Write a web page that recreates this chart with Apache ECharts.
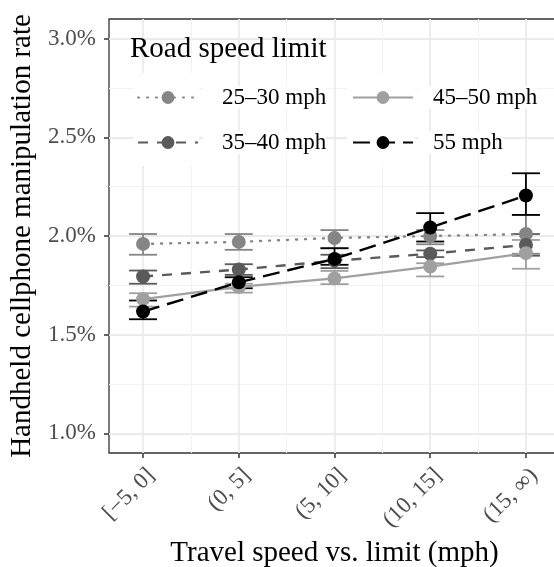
<!DOCTYPE html>
<html>
<head>
<meta charset="utf-8">
<script src="https://cdn.jsdelivr.net/npm/echarts@6/dist/echarts.min.js"></script>
<style>
  html, body { margin: 0; padding: 0; background: #fff; }
  #main { width: 554px; height: 567px; }
</style>
</head>
<body>
<div id="main"></div>
<script>
// categories and values (rate in %)
var cats = ['[\u22125, 0]', '(0, 5]', '(5, 10]', '(10, 15]', '(15, \u221e)'];
var groups = ['25\u201330 mph', '35\u201340 mph', '45\u201350 mph', '55 mph'];

var rate25 = [1.96, 1.97, 1.99, 2.00, 2.01];
var lo25 = [1.905, 1.93, 1.938, 1.958, 1.91];
var hi25 = [2.01, 2.01, 2.03, 2.03, 2.107];

var rate35 = [1.795, 1.83, 1.875, 1.91, 1.955];
var lo35 = [1.758, 1.803, 1.837, 1.893, 1.90];
var hi35 = [1.825, 1.857, 1.905, 1.927, 2.01];

var rate45 = [1.68, 1.742, 1.785, 1.845, 1.913];
var lo45 = [1.642, 1.713, 1.756, 1.795, 1.834];
var hi45 = [1.71, 1.758, 1.823, 1.862, 1.98];

var rate55 = [1.617, 1.765, 1.884, 2.043, 2.205];
var lo55 = [1.578, 1.735, 1.854, 1.972, 2.107];
var hi55 = [1.673, 1.791, 1.938, 2.116, 2.318];

var yTicks = [1.0, 1.5, 2.0, 2.5, 3.0];
var yMinor = [1.25, 1.75, 2.25, 2.75];
var xTicks = [0, 1, 2, 3, 4];
var xMinor = [0.5, 1.5, 2.5, 3.5];

var colors = ['#858585', '#5a5a5a', '#a0a0a0', '#000000'];
var dashes = [[1, 8], [10, 9], 'solid', [17, 8]];
var rates = [rate25, rate35, rate45, rate55];
var los = [lo25, lo35, lo45, lo55];
var his = [hi25, hi35, hi45, hi55];

var FONT = 'Liberation Serif';
var myChart = echarts.init(document.getElementById('main'));

function errRender(color) {
    return function (params, api) {
        var x = api.value(0);
        var pLo = api.coord([x, api.value(1)]);
        var pHi = api.coord([x, api.value(2)]);
        var w = 14;
        var st = { stroke: color, lineWidth: 1.8 };
        return {
            type: 'group',
            children: [
                { type: 'line', shape: { x1: pLo[0], y1: pLo[1], x2: pHi[0], y2: pHi[1] }, style: st },
                { type: 'line', shape: { x1: pLo[0] - w, y1: pLo[1], x2: pLo[0] + w, y2: pLo[1] }, style: st },
                { type: 'line', shape: { x1: pHi[0] - w, y1: pHi[1], x2: pHi[0] + w, y2: pHi[1] }, style: st }
            ]
        };
    };
}

var series = [];
groups.forEach(function (g, k) {
    series.push({
        name: g,
        type: 'line',
        data: rates[k].map(function (v, i) { return [i, v]; }),
        symbol: 'circle',
        symbolSize: 14,
        lineStyle: { color: colors[k], width: 2.4, type: dashes[k], cap: k === 0 ? 'round' : 'butt' },
        itemStyle: { color: colors[k] },
        emphasis: { disabled: true },
        animation: false
    });
    series.push({
        name: g + ' err',
        type: 'custom',
        renderItem: errRender(colors[k]),
        data: rates[k].map(function (v, i) { return [i, los[k][i], his[k][i]]; }),
        encode: { x: 0, y: [1, 2] },
        animation: false
    });
});

var legendCommon = {
    orient: 'vertical',
    itemWidth: 60,
    itemHeight: 16,
    itemGap: 22,
    selectedMode: false,
    textStyle: { fontFamily: FONT, fontSize: 23, color: '#000', backgroundColor: '#fff' }
};

option = {
    backgroundColor: '#fff',
    animation: false,
    title: {
        text: 'Road speed limit',
        left: 125,
        top: 30,
        textStyle: { fontFamily: FONT, fontSize: 29, fontWeight: 'normal', color: '#000' }
    },
    graphic: [
        { type: 'rect', z: 1, shape: { x: 133, y: 73, width: 66, height: 93 }, style: { fill: '#fff' } },
        { type: 'rect', z: 1, shape: { x: 347, y: 73, width: 68, height: 93 }, style: { fill: '#fff' } }
    ],
    legend: [
        echarts.util.merge({ left: 132, top: 81, data: [groups[0], groups[1]],
            textStyle: { padding: [0, 0, 0, 19] } }, legendCommon),
        echarts.util.merge({ left: 347, top: 81, data: [groups[2], groups[3]],
            textStyle: { padding: [0, 0, 0, 15] } }, legendCommon)
    ],
    grid: {
        left: 109, top: 19, bottom: 114, width: 451,
        outerBoundsMode: 'none', containLabel: false,
        show: true, borderColor: '#333', borderWidth: 1.3, backgroundColor: 'transparent'
    },
    xAxis: [
        {
            type: 'value', min: -0.356, max: 4.356,
            name: 'Travel speed vs. limit (mph)',
            nameLocation: 'middle', nameGap: 81,
            nameTextStyle: { fontFamily: FONT, fontSize: 29, color: '#000' },
            axisLine: { show: false, onZero: false },
            axisTick: { show: true, customValues: xTicks, length: 5, lineStyle: { color: '#333', width: 1.5 } },
            axisLabel: {
                customValues: xTicks, rotate: 45, margin: 11, verticalAlign: 'top',
                fontFamily: FONT, fontSize: 23, color: '#4d4d4d',
                formatter: function (v) { return cats[Math.round(v)]; }
            },
            splitLine: { show: true, lineStyle: { color: '#ebebeb', width: 1.8 } }
        },
        {
            type: 'value', min: -0.356, max: 4.356, position: 'bottom',
            axisLine: { show: false, onZero: false },
            axisTick: { show: false, customValues: xMinor },
            axisLabel: { show: false },
            splitLine: { show: true, lineStyle: { color: '#f2f2f2', width: 1 } }
        }
    ],
    yAxis: [
        {
            type: 'value', min: 0.9, max: 3.1,
            name: 'Handheld cellphone manipulation rate',
            nameLocation: 'middle', nameGap: 70,
            nameTextStyle: { fontFamily: FONT, fontSize: 29, color: '#000' },
            axisLine: { show: false, onZero: false },
            axisTick: { show: true, customValues: yTicks, length: 5, lineStyle: { color: '#333', width: 1.5 } },
            axisLabel: {
                customValues: yTicks, margin: 13,
                fontFamily: FONT, fontSize: 23, color: '#4d4d4d',
                formatter: function (v) { return v.toFixed(1) + '%'; }
            },
            splitLine: { show: true, lineStyle: { color: '#ebebeb', width: 1.8 } }
        },
        {
            type: 'value', min: 0.9, max: 3.1, position: 'left',
            axisLine: { show: false, onZero: false },
            axisTick: { show: false, customValues: yMinor },
            axisLabel: { show: false },
            splitLine: { show: true, lineStyle: { color: '#f2f2f2', width: 1 } }
        }
    ],
    series: series
};
myChart.setOption(option);
</script>
</body>
</html>
